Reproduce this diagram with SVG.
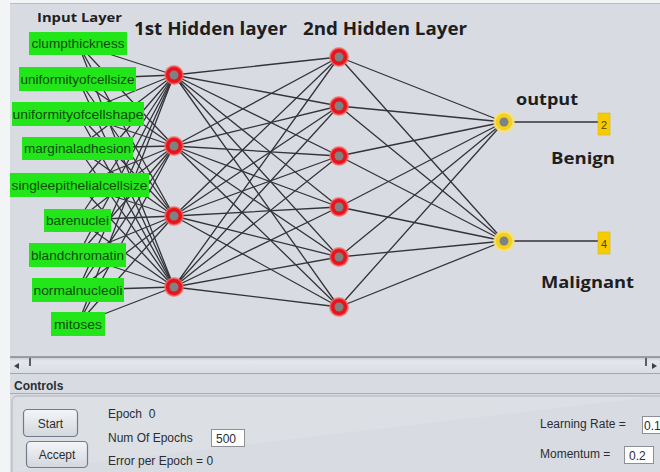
<svg xmlns="http://www.w3.org/2000/svg" width="660" height="472" viewBox="0 0 660 472">
  <defs>
    <style>
      .title { font-family: "Open Sans", "Liberation Sans", sans-serif; font-weight: bold; fill: #1e1e1e; }
      .inbox { fill: #22e61a; }
      .intext { font-family: "Liberation Sans", Arial, sans-serif; font-size: 12px; fill: #0f4a0c; text-anchor: middle; }
      .wire { stroke: #333338; stroke-width: 1.3; fill: none; }
      .hid-ring { fill: #e8141c; stroke: #f46a6a; stroke-width: 2; stroke-opacity: 0.7; }
      .out-ring { fill: #f3cf1e; stroke: #f8e27a; stroke-width: 2.5; stroke-opacity: 0.8; }
      .core { fill: #7e8282; }
      .outbox { fill: #f6cc00; stroke: #e0b800; stroke-width: 0.6; }
      .outnum { font-family: "Liberation Sans", Arial, sans-serif; font-size: 11px; fill: #5a4200; text-anchor: middle; }
      .ui { font-family: "Liberation Sans", Arial, sans-serif; font-size: 12px; fill: #2a2e33; }
      .field { fill: #ffffff; stroke: #8c9096; stroke-width: 1; }
      .btn { fill: url(#btnGrad); stroke: #6f7c8c; stroke-width: 1.2; }
    </style>
    <linearGradient id="btnGrad" x1="0" y1="0" x2="0" y2="1">
      <stop offset="0" stop-color="#f4f5f7"/>
      <stop offset="1" stop-color="#d3d7dd"/>
    </linearGradient>
    <linearGradient id="trackGrad" x1="0" y1="0" x2="0" y2="1">
      <stop offset="0" stop-color="#c4c8ce"/>
      <stop offset="0.25" stop-color="#e4e7eb"/>
      <stop offset="1" stop-color="#dadde2"/>
    </linearGradient>
  </defs>

  <!-- window background -->
  <rect x="0" y="0" width="660" height="472" fill="#f3f4f6"/>
  <rect x="10" y="3" width="650" height="469" fill="#d8dbe2"/>
  <line x1="10" y1="3.5" x2="660" y2="3.5" stroke="#b8bcc2" stroke-width="1"/>

  <!-- layer titles -->
  <text class="title" x="37" y="22" font-size="13" textLength="85" lengthAdjust="spacingAndGlyphs">Input Layer</text>
  <text class="title" x="134" y="35" font-size="17" textLength="153" lengthAdjust="spacingAndGlyphs">1st Hidden layer</text>
  <text class="title" x="303" y="35" font-size="17" textLength="164" lengthAdjust="spacingAndGlyphs">2nd Hidden Layer</text>
  <text class="title" x="516" y="105" font-size="16" textLength="62" lengthAdjust="spacingAndGlyphs">output</text>
  <text class="title" x="551" y="164" font-size="16" textLength="64" lengthAdjust="spacingAndGlyphs">Benign</text>
  <text class="title" x="541" y="288" font-size="16" textLength="93" lengthAdjust="spacingAndGlyphs">Malignant</text>

  <!-- connectors -->
  <g id="connectors">
    <g id="input-to-hidden1">
      <path class="wire" d="M78 44L174 75M78 44L174 146M78 44L174 216M78 44L174 287"/>
      <path class="wire" d="M78 79L174 75M78 79L174 146M78 79L174 216M78 79L174 287"/>
      <path class="wire" d="M78 114L174 75M78 114L174 146M78 114L174 216M78 114L174 287"/>
      <path class="wire" d="M78 148L174 75M78 148L174 146M78 148L174 216M78 148L174 287"/>
      <path class="wire" d="M79 185L174 75M79 185L174 146M79 185L174 216M79 185L174 287"/>
      <path class="wire" d="M78 220L174 75M78 220L174 146M78 220L174 216M78 220L174 287"/>
      <path class="wire" d="M78 255L174 75M78 255L174 146M78 255L174 216M78 255L174 287"/>
      <path class="wire" d="M78 290L174 75M78 290L174 146M78 290L174 216M78 290L174 287"/>
      <path class="wire" d="M78 324L174 75M78 324L174 146M78 324L174 216M78 324L174 287"/>
    </g>
    <g id="hidden1-to-hidden2">
      <path class="wire" d="M174 75L339 57M174 75L339 106M174 75L339 156M174 75L339 207M174 75L339 257M174 75L339 307"/>
      <path class="wire" d="M174 146L339 57M174 146L339 106M174 146L339 156M174 146L339 207M174 146L339 257M174 146L339 307"/>
      <path class="wire" d="M174 216L339 57M174 216L339 106M174 216L339 156M174 216L339 207M174 216L339 257M174 216L339 307"/>
      <path class="wire" d="M174 287L339 57M174 287L339 106M174 287L339 156M174 287L339 207M174 287L339 257M174 287L339 307"/>
    </g>
    <g id="hidden2-to-output">
      <path class="wire" d="M339 57L504 122M339 57L504 241"/>
      <path class="wire" d="M339 106L504 122M339 106L504 241"/>
      <path class="wire" d="M339 156L504 122M339 156L504 241"/>
      <path class="wire" d="M339 207L504 122M339 207L504 241"/>
      <path class="wire" d="M339 257L504 122M339 257L504 241"/>
      <path class="wire" d="M339 307L504 122M339 307L504 241"/>
    </g>
    <g id="output-to-class">
      <path class="wire" d="M504 122L598 122M504 241L598 241" stroke="#4a4a50" stroke-width="1.8"/>
    </g>
  </g>

  <!-- input layer -->
  <g id="in-clumpthickness">
    <rect class="inbox" x="29" y="32" width="98" height="23"/>
    <text class="intext" x="78" y="48" textLength="93" lengthAdjust="spacingAndGlyphs">clumpthickness</text>
  </g>
  <g id="in-uniformityofcellsize">
    <rect class="inbox" x="19" y="67" width="117" height="24"/>
    <text class="intext" x="77.5" y="84" textLength="114" lengthAdjust="spacingAndGlyphs">uniformityofcellsize</text>
  </g>
  <g id="in-uniformityofcellshape">
    <rect class="inbox" x="12" y="102" width="132" height="24"/>
    <text class="intext" x="78" y="119" textLength="131" lengthAdjust="spacingAndGlyphs">uniformityofcellshape</text>
  </g>
  <g id="in-marginaladhesion">
    <rect class="inbox" x="22" y="137" width="111" height="23"/>
    <text class="intext" x="77.5" y="153" textLength="107" lengthAdjust="spacingAndGlyphs">marginaladhesion</text>
  </g>
  <g id="in-singleepithelialcellsize">
    <rect class="inbox" x="10" y="173" width="139" height="24"/>
    <text class="intext" x="79.5" y="190" textLength="136" lengthAdjust="spacingAndGlyphs">singleepithelialcellsize</text>
  </g>
  <g id="in-barenuclei">
    <rect class="inbox" x="44" y="209" width="67" height="23"/>
    <text class="intext" x="77.5" y="225" textLength="63" lengthAdjust="spacingAndGlyphs">barenuclei</text>
  </g>
  <g id="in-blandchromatin">
    <rect class="inbox" x="29" y="243" width="97" height="24"/>
    <text class="intext" x="77.5" y="260" textLength="93" lengthAdjust="spacingAndGlyphs">blandchromatin</text>
  </g>
  <g id="in-normalnucleoli">
    <rect class="inbox" x="32" y="278" width="92" height="24"/>
    <text class="intext" x="78" y="295" textLength="89" lengthAdjust="spacingAndGlyphs">normalnucleoli</text>
  </g>
  <g id="in-mitoses">
    <rect class="inbox" x="51" y="312" width="54" height="24"/>
    <text class="intext" x="78" y="329" textLength="48" lengthAdjust="spacingAndGlyphs">mitoses</text>
  </g>

  <!-- first hidden layer -->
  <g id="h1-1"><circle class="hid-ring" cx="174" cy="75" r="9"/><circle class="core" cx="174" cy="75" r="4.5"/></g>
  <g id="h1-2"><circle class="hid-ring" cx="174" cy="146" r="9"/><circle class="core" cx="174" cy="146" r="4.5"/></g>
  <g id="h1-3"><circle class="hid-ring" cx="174" cy="216" r="9"/><circle class="core" cx="174" cy="216" r="4.5"/></g>
  <g id="h1-4"><circle class="hid-ring" cx="174" cy="287" r="9"/><circle class="core" cx="174" cy="287" r="4.5"/></g>

  <!-- second hidden layer -->
  <g id="h2-1"><circle class="hid-ring" cx="339" cy="57" r="9"/><circle class="core" cx="339" cy="57" r="4.5"/></g>
  <g id="h2-2"><circle class="hid-ring" cx="339" cy="106" r="9"/><circle class="core" cx="339" cy="106" r="4.5"/></g>
  <g id="h2-3"><circle class="hid-ring" cx="339" cy="156" r="9"/><circle class="core" cx="339" cy="156" r="4.5"/></g>
  <g id="h2-4"><circle class="hid-ring" cx="339" cy="207" r="9"/><circle class="core" cx="339" cy="207" r="4.5"/></g>
  <g id="h2-5"><circle class="hid-ring" cx="339" cy="257" r="9"/><circle class="core" cx="339" cy="257" r="4.5"/></g>
  <g id="h2-6"><circle class="hid-ring" cx="339" cy="307" r="9"/><circle class="core" cx="339" cy="307" r="4.5"/></g>

  <!-- output layer -->
  <g id="out-1"><circle class="out-ring" cx="504" cy="122" r="9.5"/><circle class="core" cx="504" cy="122" r="4.5"/></g>
  <g id="out-2"><circle class="out-ring" cx="504" cy="241" r="9.5"/><circle class="core" cx="504" cy="241" r="4.5"/></g>

  <!-- class labels -->
  <g id="class-2">
    <rect class="outbox" x="598" y="113" width="12" height="22"/>
    <text class="outnum" x="604" y="129">2</text>
  </g>
  <g id="class-4">
    <rect class="outbox" x="598" y="232" width="12" height="22"/>
    <text class="outnum" x="604" y="248">4</text>
  </g>

  <!-- horizontal scrollbar -->
  <g id="scrollbar">
    <rect x="10" y="357" width="650" height="16" fill="url(#trackGrad)"/>
    <line x1="10" y1="357" x2="660" y2="357" stroke="#85898f" stroke-width="1.5"/>
    <line x1="10" y1="373.5" x2="660" y2="373.5" stroke="#a3a7ad" stroke-width="1"/>
    <polygon points="14,366 19,363 19,369" fill="#3c3f44"/>
    <rect x="29" y="358" width="2" height="8" fill="#5a5e64"/>
    <rect x="645" y="358" width="2" height="8" fill="#5a5e64"/>
    <polygon points="657,366 652,363 652,369" fill="#3c3f44"/>
  </g>

  <!-- controls panel -->
  <g id="controls">
    <text class="ui" x="14" y="390" font-weight="bold" font-size="12">Controls</text>
    <line x1="10" y1="393.5" x2="660" y2="393.5" stroke="#a9adb3" stroke-width="1"/>
    <path d="M12 472V402Q12 396 18 396H660" fill="#dcdfe4" stroke="#b0b4ba" stroke-width="1"/>

    <g id="btn-start">
      <rect class="btn" x="23.5" y="409.5" width="54" height="27" rx="4" stroke="#6c87a8" stroke-width="1.6"/>
      <text class="ui" x="50.5" y="428" text-anchor="middle">Start</text>
    </g>
    <g id="btn-accept">
      <rect class="btn" x="26.5" y="441.5" width="61" height="26" rx="4"/>
      <text class="ui" x="57" y="459" text-anchor="middle">Accept</text>
    </g>

    <text class="ui" x="108" y="418">Epoch&#160;&#160;0</text>
    <text class="ui" x="108" y="442">Num Of Epochs</text>
    <rect class="field" x="211.5" y="429.5" width="33" height="17"/>
    <text class="ui" x="216" y="443" font-size="11.5">500</text>
    <text class="ui" x="108" y="465">Error per Epoch = 0</text>

    <text class="ui" x="540" y="428">Learning Rate = </text>
    <rect class="field" x="642.5" y="416.5" width="20" height="17"/>
    <text class="ui" x="644" y="430" font-size="10.5">0.1</text>
    <text class="ui" x="540" y="458">Momentum = </text>
    <rect class="field" x="624.5" y="446.5" width="29" height="17"/>
    <text class="ui" x="629" y="460" font-size="11.5">0.2</text>
  </g>
</svg>
